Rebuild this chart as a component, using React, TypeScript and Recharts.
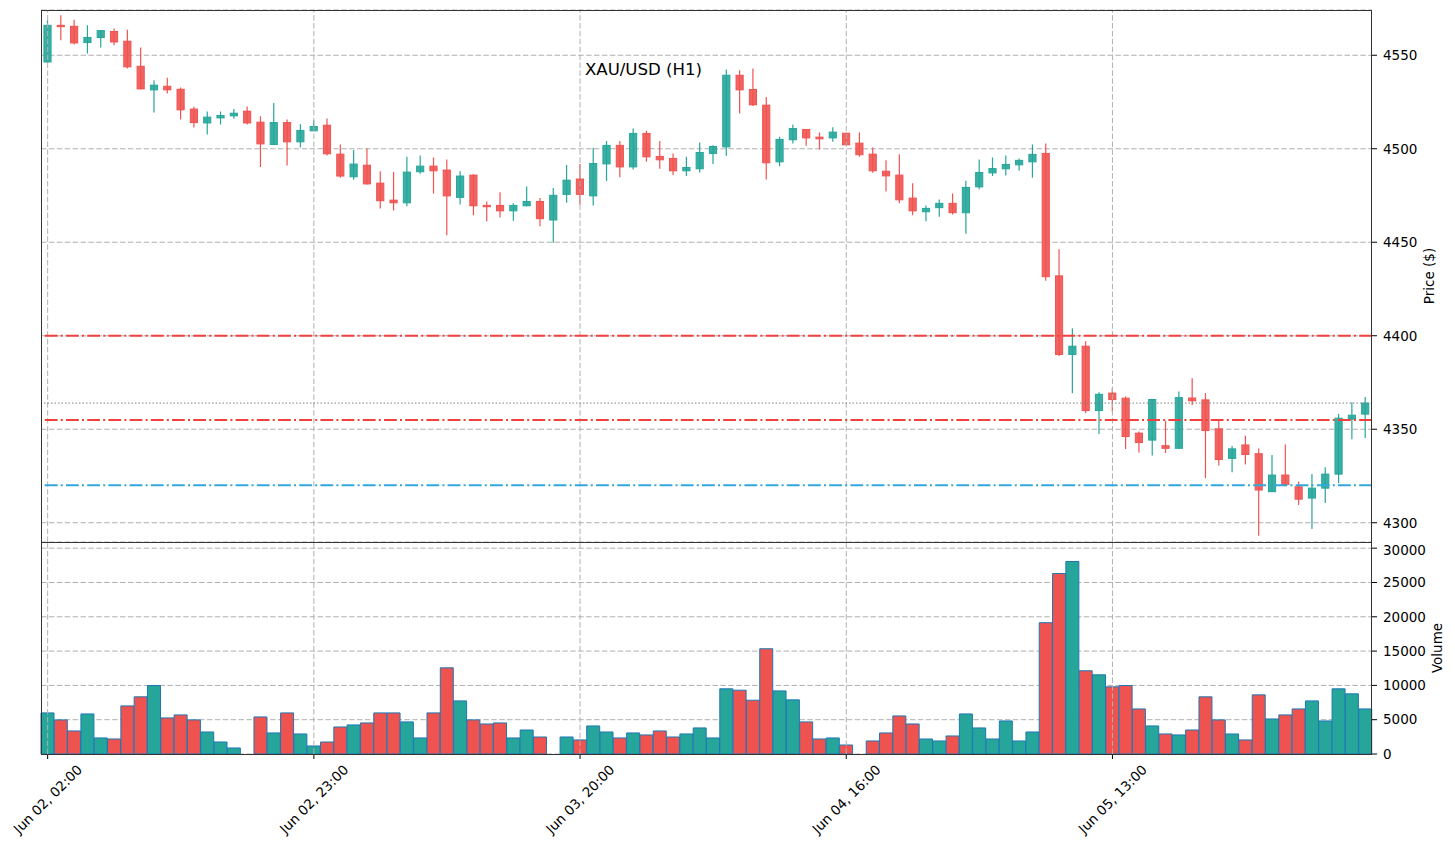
import React from 'react';
import {
  ComposedChart,
  BarChart,
  Bar,
  Cell,
  XAxis,
  YAxis,
  CartesianGrid,
  ReferenceLine,
} from 'recharts';

// Hourly XAU/USD candles, index 0 = Jun 02 02:00
const OPEN = [
  4546.4, 4566.0, 4565.5, 4556.8, 4559.5, 4562.7, 4557.5, 4544.1, 4531.5, 4533.4,
  4531.8, 4521.2, 4513.8, 4516.5, 4517.6, 4520.1, 4514.2, 4502.3, 4514.0, 4503.7,
  4509.6, 4512.6, 4497.1, 4485.0, 4491.2, 4481.6, 4472.5, 4471.1, 4487.7, 4490.7,
  4488.6, 4474.0, 4485.9, 4469.7, 4469.7, 4466.8, 4469.5, 4471.8, 4461.9, 4475.6,
  4483.8, 4474.8, 4491.9, 4501.8, 4490.3, 4508.2, 4495.9, 4494.8, 4488.2, 4489.3,
  4497.5, 4501.0, 4539.3, 4531.7, 4523.3, 4493.0, 4504.8, 4510.3, 4506.2, 4505.8,
  4508.3, 4503.0, 4497.1, 4488.0, 4485.9, 4473.6, 4466.3, 4468.5, 4470.8, 4465.8,
  4479.6, 4487.1, 4489.3, 4491.4, 4493.0, 4497.5, 4432.0, 4390.0, 4394.4, 4360.0,
  4369.3, 4366.6, 4347.9, 4344.2, 4341.2, 4339.8, 4366.7, 4365.7, 4350.2, 4334.4,
  4341.6, 4336.9, 4316.6, 4325.5, 4319.2, 4313.2, 4318.5, 4326.0, 4355.4, 4358.1,
];
const HIGH = [
  4568.7, 4571.4, 4569.0, 4566.0, 4563.2, 4564.3, 4563.7, 4554.1, 4536.6, 4538.0,
  4532.7, 4522.4, 4519.9, 4519.9, 4521.2, 4522.6, 4517.4, 4524.5, 4515.7, 4513.1,
  4515.3, 4516.2, 4502.3, 4499.3, 4500.2, 4488.0, 4487.5, 4495.7, 4496.4, 4495.3,
  4494.3, 4488.0, 4486.4, 4471.8, 4476.7, 4470.8, 4479.8, 4473.6, 4479.0, 4491.3,
  4491.8, 4500.5, 4504.1, 4504.1, 4510.8, 4509.6, 4504.1, 4497.5, 4495.7, 4503.4,
  4501.9, 4542.4, 4542.0, 4542.9, 4527.7, 4506.4, 4513.0, 4510.5, 4508.7, 4511.5,
  4508.5, 4508.7, 4500.7, 4493.9, 4497.0, 4481.5, 4469.7, 4472.9, 4476.1, 4482.9,
  4494.3, 4495.3, 4496.4, 4494.8, 4502.3, 4502.8, 4446.2, 4404.0, 4397.0, 4369.8,
  4372.0, 4367.5, 4348.8, 4366.0, 4354.4, 4370.2, 4377.3, 4369.3, 4354.5, 4341.1,
  4346.5, 4339.7, 4336.2, 4341.8, 4322.1, 4326.0, 4329.7, 4358.2, 4364.4, 4367.2,
];
const LOW = [
  4546.0, 4558.0, 4555.7, 4551.0, 4554.1, 4555.3, 4542.9, 4531.8, 4519.4, 4529.5,
  4515.7, 4511.4, 4507.6, 4513.0, 4516.0, 4513.0, 4490.3, 4502.0, 4491.0, 4500.7,
  4509.4, 4496.4, 4484.5, 4483.4, 4480.9, 4468.1, 4467.0, 4469.3, 4486.6, 4476.1,
  4453.7, 4470.2, 4464.4, 4461.2, 4463.3, 4461.5, 4469.2, 4458.5, 4449.7, 4471.1,
  4470.0, 4469.7, 4482.7, 4484.7, 4488.9, 4493.0, 4489.3, 4486.0, 4485.4, 4487.3,
  4491.8, 4496.2, 4518.9, 4522.9, 4483.6, 4490.7, 4502.8, 4501.6, 4499.6, 4503.7,
  4502.0, 4495.7, 4487.1, 4477.2, 4470.8, 4464.4, 4461.2, 4463.6, 4464.9, 4454.6,
  4478.3, 4485.4, 4485.7, 4488.2, 4484.5, 4429.4, 4389.2, 4369.3, 4358.6, 4347.4,
  4359.5, 4339.5, 4337.6, 4336.0, 4337.2, 4339.6, 4363.0, 4323.8, 4330.6, 4327.0,
  4331.1, 4293.0, 4316.5, 4319.5, 4309.5, 4296.7, 4310.5, 4321.2, 4344.7, 4345.3,
];
const CLOSE = [
  4566.0, 4565.3, 4556.6, 4559.5, 4563.2, 4557.1, 4543.8, 4532.0, 4534.0, 4531.5,
  4520.8, 4514.0, 4516.9, 4517.8, 4519.0, 4513.8, 4502.6, 4514.0, 4503.7, 4509.8,
  4511.9, 4497.3, 4485.4, 4491.8, 4481.2, 4472.2, 4471.1, 4487.5, 4490.7, 4488.2,
  4474.8, 4485.4, 4469.5, 4469.0, 4466.8, 4469.7, 4471.8, 4462.6, 4475.1, 4483.2,
  4475.6, 4492.1, 4501.8, 4490.3, 4508.2, 4495.7, 4494.1, 4488.2, 4490.0, 4498.0,
  4501.2, 4539.3, 4531.5, 4523.5, 4492.5, 4505.0, 4510.8, 4505.8, 4505.3, 4508.9,
  4502.1, 4496.8, 4488.2, 4485.5, 4472.7, 4466.8, 4468.1, 4470.8, 4465.8, 4479.3,
  4487.3, 4489.4, 4491.6, 4493.8, 4497.0, 4431.6, 4390.0, 4394.4, 4360.0, 4368.7,
  4365.9, 4346.1, 4342.9, 4365.9, 4339.8, 4366.9, 4365.2, 4349.3, 4333.8, 4339.5,
  4336.5, 4317.5, 4325.5, 4320.4, 4312.6, 4318.5, 4326.0, 4355.9, 4357.5, 4364.0,
];
const VOLUME = [
  5990, 4970, 3360, 5840, 2340, 2190, 7010, 8330, 9980, 5260,
  5700, 4970, 3210, 1750, 880, 0, 5400, 3070, 5990, 2920,
  1170, 1750, 3940, 4240, 4530, 5990, 5990, 4680, 2340, 5990,
  12560, 7740, 4970, 4380, 4530, 2340, 3500, 2480, 0, 2480,
  2050, 4090, 3210, 2340, 3070, 2780, 3360, 2480, 2920, 3800,
  2340, 9500, 9300, 7840, 15340, 9200, 7890, 4680, 2190, 2340,
  1310, 0, 1900, 3070, 5550, 4380, 2190, 1900, 2630, 5840,
  3800, 2190, 4820, 1900, 3210, 19140, 26300, 28060, 12130, 11540,
  9790, 9980, 6570, 4090, 2920, 2780, 3500, 8330, 4970, 2920,
  2050, 8620, 5110, 5700, 6570, 7740, 4820, 9500, 8770, 6570,
];

const TICK_INDEX = [0, 20, 40, 60, 80];
const TICK_LABELS = ['Jun 02, 02:00', 'Jun 02, 23:00', 'Jun 03, 20:00', 'Jun 04, 16:00', 'Jun 05, 13:00'];

const PRICE_TICKS = [4300, 4350, 4400, 4450, 4500, 4550];
const VOLUME_TICKS = [0, 5000, 10000, 15000, 20000, 25000, 30000];

const RESISTANCE = [4400, 4355];
const SUPPORT = [4320];

const GREEN = '#26a69a';
const RED = '#ef5350';
const GRID = '#b0b0b0';
const FONT = 'DejaVu Sans, sans-serif';

const data = OPEN.map((o, i) => ({
  i,
  open: o,
  high: HIGH[i],
  low: LOW[i],
  close: CLOSE[i],
  range: [LOW[i], HIGH[i]],
  volume: VOLUME[i],
}));

const lastClose = CLOSE[CLOSE.length - 1];

const Candle = (props: any) => {
  const { x, y, width, height, payload } = props;
  if (!payload) return null;
  const { open, close, high, low } = payload;
  const top = Math.min(y, y + height);
  const h = Math.abs(height);
  const k = h / (high - low || 1);
  const py = (v: number) => top + (high - v) * k;
  const color = close >= open ? GREEN : RED;
  const cx = x + width / 2;
  const bw = width * 0.55;
  const bodyTop = py(Math.max(open, close));
  const bodyH = Math.max(Math.abs(py(open) - py(close)), 1);
  return (
    <g>
      <line x1={cx} x2={cx} y1={top} y2={top + h} stroke={color} strokeWidth={1.2} />
      <rect
        x={cx - bw / 2}
        y={bodyTop}
        width={bw}
        height={bodyH}
        fill={color}
        fillOpacity={0.9}
        stroke={color}
        strokeWidth={1}
      />
    </g>
  );
};

const DateTick = (props: any) => {
  const { x, y, payload } = props;
  const pos = TICK_INDEX.indexOf(payload.value);
  if (pos < 0) return null;
  return (
    <text
      x={x}
      y={y}
      transform={`rotate(-45 ${x} ${y})`}
      textAnchor="middle"
      dominantBaseline="central"
      fontSize={13.5}
      fontFamily={FONT}
      fill="#000"
    >
      {TICK_LABELS[pos]}
    </text>
  );
};

const tickStyle = { fontSize: 13.5, fontFamily: FONT, fill: '#000' };

const frame = (top: number, height: number): React.CSSProperties => ({
  position: 'absolute',
  left: 41,
  top,
  width: 1331,
  height,
  border: '1px solid #333',
  boxSizing: 'border-box',
  pointerEvents: 'none',
});

const axisTitle = (left: number, top: number): React.CSSProperties => ({
  position: 'absolute',
  left,
  top,
  transform: 'translate(-50%, -50%) rotate(-90deg)',
  fontFamily: FONT,
  fontSize: 13.5,
  color: '#000',
  whiteSpace: 'nowrap',
  lineHeight: 1,
});

export default function App() {
  return (
    <div style={{ position: 'absolute', left: 0, top: 0, width: 1455, height: 849, background: '#fff' }}>
      <div style={{ position: 'absolute', left: 0, top: 0 }}>
        <ComposedChart
          width={1455}
          height={542}
          data={data}
          margin={{ top: 10, right: 0, left: 41, bottom: 0 }}
          barCategoryGap={0}
          barGap={0}
        >
          <CartesianGrid vertical={false} stroke={GRID} strokeDasharray="5.5 2.4" />
          <XAxis dataKey="i" type="category" hide />
          <YAxis
            orientation="right"
            width={83}
            type="number"
            domain={[4289.7, 4574.2]}
            ticks={PRICE_TICKS}
            allowDataOverflow
            axisLine={false}
            tickLine={{ stroke: '#000' }}
            tickSize={5}
            tickMargin={6}
            tick={tickStyle}
          />
          {TICK_INDEX.map((t) => (
            <ReferenceLine key={`vx-${t}`} x={t} stroke={GRID} strokeDasharray="5.5 2.4" />
          ))}
          <Bar dataKey="range" shape={<Candle />} isAnimationActive={false} />
          {RESISTANCE.map((v) => (
            <ReferenceLine key={`r-${v}`} y={v} stroke="#f2413d" strokeWidth={2} strokeDasharray="12.8 3.2 2 3.2" />
          ))}
          {SUPPORT.map((v) => (
            <ReferenceLine key={`s-${v}`} y={v} stroke="#33a7dc" strokeWidth={2} strokeDasharray="12.8 3.2 2 3.2" />
          ))}
          <ReferenceLine y={lastClose} stroke="#808080" strokeWidth={1} strokeDasharray="1.5 2" />
        </ComposedChart>
      </div>

      <div style={{ position: 'absolute', left: 0, top: 542 }}>
        <BarChart
          width={1455}
          height={307}
          data={data}
          margin={{ top: 0, right: 0, left: 41, bottom: 0 }}
          barCategoryGap={0}
          barGap={0}
        >
          <CartesianGrid vertical={false} stroke={GRID} strokeDasharray="5.5 2.4" />
          <XAxis
            dataKey="i"
            type="category"
            height={95}
            interval={19}
            axisLine={false}
            tickLine={{ stroke: '#000' }}
            tickSize={5}
            tickMargin={40}
            tick={<DateTick />}
          />
          <YAxis
            orientation="right"
            width={83}
            type="number"
            domain={[0, 30900]}
            ticks={VOLUME_TICKS}
            allowDataOverflow
            axisLine={false}
            tickLine={{ stroke: '#000' }}
            tickSize={5}
            tickMargin={6}
            tick={tickStyle}
          />
          {TICK_INDEX.map((t) => (
            <ReferenceLine key={`vv-${t}`} x={t} stroke={GRID} strokeDasharray="5.5 2.4" />
          ))}
          <Bar dataKey="volume" stroke="#1f77b4" strokeWidth={1} isAnimationActive={false}>
            {data.map((d) => (
              <Cell key={`v-${d.i}`} fill={d.close >= d.open ? GREEN : RED} />
            ))}
          </Bar>
        </BarChart>
      </div>

      <div style={frame(10, 533)} />
      <div style={frame(542, 213)} />

      <div
        style={{
          position: 'absolute',
          left: 643.5,
          top: 70,
          transform: 'translate(-50%, -50%)',
          fontFamily: FONT,
          fontSize: 16.6,
          color: '#000',
          whiteSpace: 'nowrap',
          lineHeight: 1,
        }}
      >
        XAU/USD (H1)
      </div>
      <div style={axisTitle(1430, 276)}>Price ($)</div>
      <div style={axisTitle(1438, 648)}>Volume</div>
    </div>
  );
}
